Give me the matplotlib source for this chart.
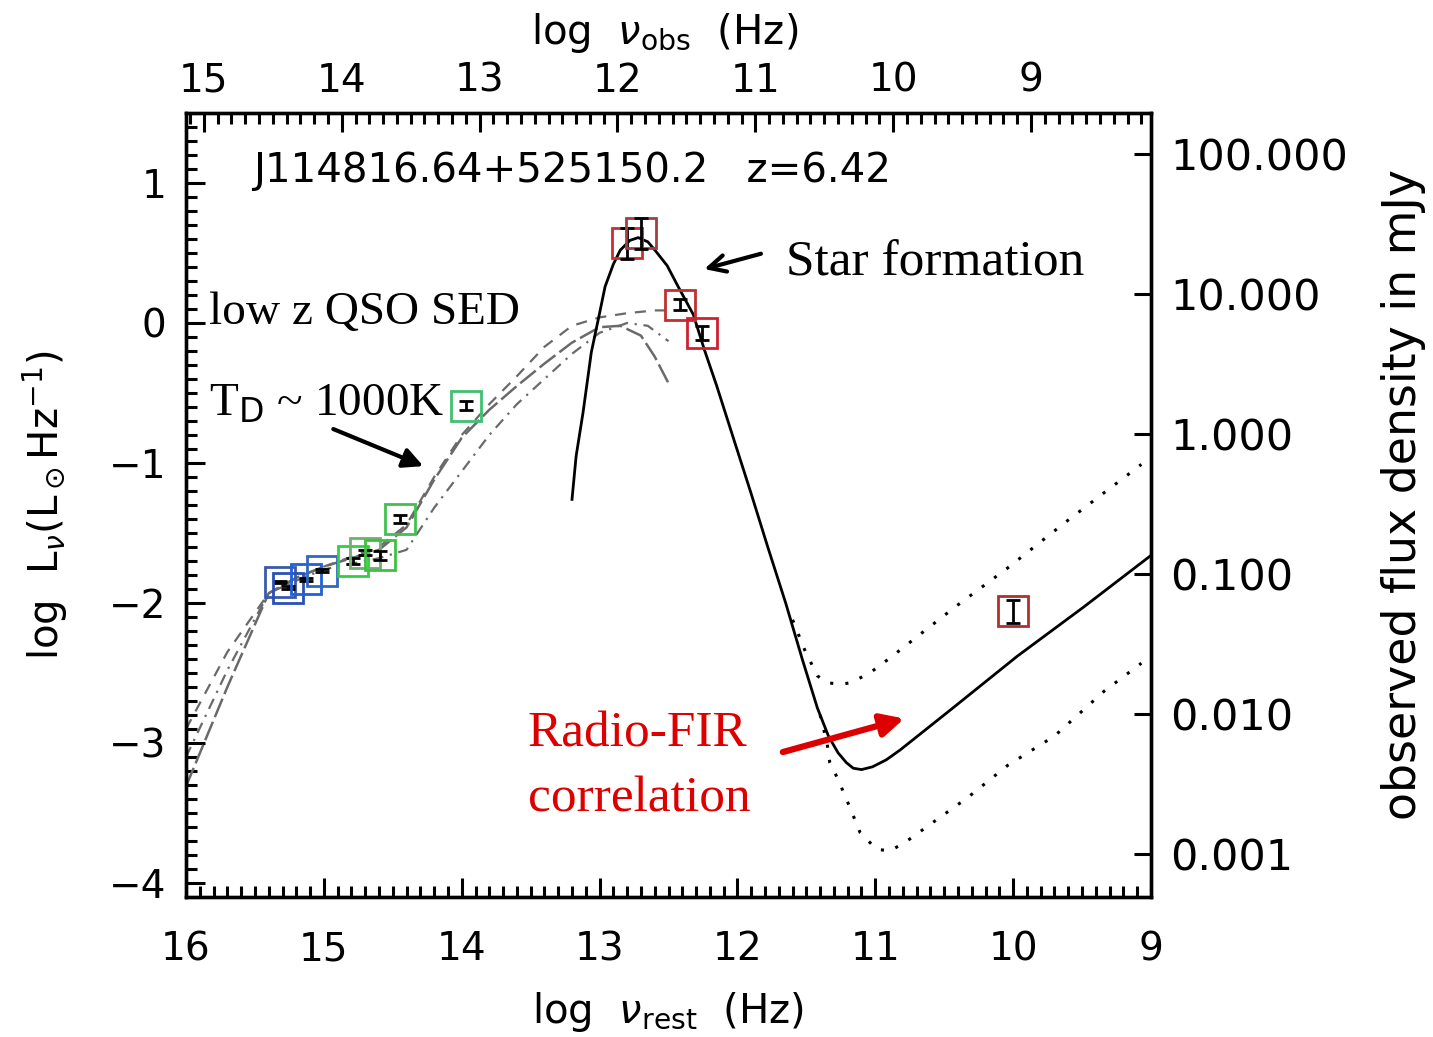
import numpy as np
import matplotlib
matplotlib.use('Agg')
import matplotlib.pyplot as plt
from matplotlib.ticker import MultipleLocator, FixedLocator, NullLocator, FuncFormatter

# redshift and flux offset between the two y-axes
z = 6.42
dz = np.log10(1 + z)
off = 0.79  # log F(mJy) = log L + off

# photometry (log nu_rest, log L_nu, error)
blue_x = [15.32, 15.26, 15.13, 15.01]
blue_y = [-1.85, -1.89, -1.83, -1.77]
blue_e = [0.01, 0.01, 0.01, 0.01]
blue_c = ['#3a5aa8', '#2a50b8', '#2060d8', '#3068c0']

green_x = [14.79, 14.70, 14.59, 14.45, 13.97]
green_y = [-1.70, -1.64, -1.66, -1.40, -0.59]
green_e = [0.02, 0.02, 0.03, 0.03, 0.03]
green_c = ['#30d040', '#70b070', '#40c040', '#40c050', '#40c070']

red_x = [12.80, 12.70, 12.42, 12.26, 10.00]
red_y = [0.57, 0.64, 0.13, -0.07, -2.06]
red_e = [0.11, 0.11, 0.04, 0.05, 0.08]
red_c = ['#c83030', '#a04040', '#c03030', '#d02030', '#b03030']

# low z QSO templates
qso1_x = [16.0, 15.7, 15.4, 15.2, 15.0, 14.8, 14.6, 14.4, 14.2, 14.0, 13.8, 13.6, 13.4, 13.2, 13.0, 12.85, 12.7, 12.6, 12.5]
qso1_y = [-3.31, -2.60, -1.93, -1.82, -1.74, -1.68, -1.62, -1.46, -1.12, -0.82, -0.62, -0.45, -0.29, -0.14, -0.03, -0.02, -0.09, -0.24, -0.43]
qso2_x = [16.0, 15.7, 15.4, 15.2, 15.0, 14.8, 14.6, 14.4, 14.2, 14.0, 13.8, 13.6, 13.4, 13.2, 13.0, 12.8, 12.6, 12.5]
qso2_y = [-2.90, -2.35, -1.93, -1.82, -1.74, -1.67, -1.60, -1.44, -1.10, -0.80, -0.58, -0.38, -0.17, -0.02, 0.04, 0.07, 0.09, 0.09]
qso3_x = [16.0, 15.7, 15.4, 15.2, 15.0, 14.8, 14.6, 14.4, 14.2, 14.0, 13.8, 13.6, 13.4, 13.2, 13.0, 12.8, 12.65, 12.5]
qso3_y = [-3.10, -2.48, -1.93, -1.84, -1.76, -1.72, -1.68, -1.62, -1.32, -1.06, -0.80, -0.58, -0.40, -0.22, -0.07, 0.00, -0.02, -0.13]

# star formation + radio model
sf_x = [13.20, 13.17, 13.12, 13.06, 13.00, 12.96, 12.90, 12.85, 12.78, 12.72, 12.65, 12.59, 12.51, 12.43, 12.32, 12.24,
        12.15, 12.03, 11.90, 11.78, 11.65, 11.53, 11.42, 11.34, 11.27, 11.21, 11.16, 11.10, 11.02, 10.92, 10.82,
        10.45, 9.97, 9.49, 9.00]
sf_y = [-1.26, -0.95, -0.64, -0.21, 0.07, 0.26, 0.42, 0.52, 0.59, 0.61, 0.58, 0.51, 0.41, 0.26, 0.06, -0.19,
        -0.45, -0.82, -1.22, -1.60, -2.00, -2.40, -2.75, -2.95, -3.07, -3.14, -3.18, -3.19, -3.17, -3.12, -3.05,
        -2.76, -2.38, -2.03, -1.66]
hi_x = [11.60, 11.51, 11.42, 11.35, 11.25, 11.18, 11.04, 10.89, 10.67, 10.41, 10.04, 9.63, 9.07]
hi_y = [-2.12, -2.34, -2.52, -2.57, -2.58, -2.57, -2.50, -2.39, -2.22, -2.02, -1.75, -1.43, -1.01]
lo_x = [11.40, 11.35, 11.33, 11.27, 11.18, 11.11, 10.99, 10.89, 10.77, 10.60, 10.33, 10.04, 9.70, 9.34, 9.07]
lo_y = [-2.80, -3.00, -3.14, -3.26, -3.47, -3.64, -3.76, -3.77, -3.70, -3.58, -3.39, -3.16, -2.95, -2.63, -2.43]

rest_ticks = [16, 15, 14, 13, 12, 11, 10, 9]
obs_ticks = [15, 14, 13, 12, 11, 10, 9]
l_ticks = [1, 0, -1, -2, -3, -4]
f_ticks = [100, 10, 1, 0.1, 0.01, 0.001]

W, H = 1433, 1037
fig = plt.figure(figsize=(W / 100, H / 100), dpi=100)
ax = fig.add_axes([186 / W, 1 - 897 / H, (1151 - 186) / W, (897 - 113) / H])

grey = '#6a6a6a'
ax.plot(qso1_x, qso1_y, color=grey, lw=1.8, ls=(0, (8, 2)))
ax.plot(qso2_x, qso2_y, color=grey, lw=1.6, ls=(0, (5, 4)))
ax.plot(qso3_x, qso3_y, color=grey, lw=1.6, ls=(0, (5, 3, 1, 3)))

ax.plot(sf_x, sf_y, color='black', lw=2.0)
ax.plot(hi_x, hi_y, color='black', lw=2.2, ls=(0, (1, 4)))
ax.plot(lo_x, lo_y, color='black', lw=2.2, ls=(0, (1, 4)))

for xs, ys, es, cs in [(blue_x, blue_y, blue_e, blue_c),
                       (green_x, green_y, green_e, green_c),
                       (red_x, red_y, red_e, red_c)]:
    for xv, yv, ev, cv in zip(xs, ys, es, cs):
        ax.plot(xv, yv, marker='s', ms=21, mfc='none', mec=cv, mew=2.0, ls='none')
        ax.errorbar(xv, yv, yerr=ev, fmt='none', ecolor='black', elinewidth=2, capsize=5, capthick=2)

ax.set_xlim(16, 9)
ax.set_ylim(-4.1, 1.5)

ax.xaxis.set_major_locator(FixedLocator(rest_ticks))
ax.xaxis.set_minor_locator(MultipleLocator(0.1))
ax.yaxis.set_major_locator(FixedLocator(l_ticks))
ax.yaxis.set_minor_locator(MultipleLocator(0.1))
ax.tick_params(which='major', direction='in', length=14, width=2.2, labelsize=28)
ax.tick_params(which='minor', direction='in', length=8, width=2.2)
ax.tick_params(axis='x', which='both', top=False, pad=24)
ax.tick_params(axis='y', which='both', right=False, pad=14)
ax.yaxis.set_major_formatter(FuncFormatter(lambda v, p: '%d' % v if v >= 0 else '\u2212%d' % -v))
for s in ax.spines.values():
    s.set_linewidth(2.4)

# top axis: observed frequency
top = ax.secondary_xaxis('top', functions=(lambda x: x - dz, lambda x: x + dz))
top.xaxis.set_major_locator(FixedLocator(obs_ticks))
top.xaxis.set_minor_locator(MultipleLocator(0.1))
top.tick_params(which='major', direction='in', length=14, width=2.2, labelsize=28, pad=9.5)
top.tick_params(which='minor', direction='in', length=8, width=2.2)

# right axis: observed flux density
ax2 = ax.twinx()
ax2.set_yscale('log')
ax2.set_ylim(10 ** (-4.1 + off), 10 ** (1.5 + off))
ax2.yaxis.set_major_locator(FixedLocator(f_ticks))
ax2.yaxis.set_minor_locator(NullLocator())
ax2.yaxis.set_major_formatter(FuncFormatter(lambda v, p: '%.3f' % v))
ax2.tick_params(which='major', direction='in', length=12, width=2.2, labelsize=31, pad=14)
for s in ax2.spines.values():
    s.set_linewidth(2.4)

# axis titles
fig.text(668 / W, 1 - 1012 / H, r'log  $\nu_{\rm rest}$  (Hz)', fontsize=29, ha='center', va='center')
fig.text(665 / W, 1 - 33 / H, r'log  $\nu_{\rm obs}$  (Hz)', fontsize=29, ha='center', va='center')
fig.text(45 / W, 1 - 505 / H, r'log  L$_\nu$(L$_\odot$Hz$^{-1}$)', fontsize=29, ha='center', va='center',
         rotation=90)
fig.text(1403 / W, 1 - 495 / H, 'observed flux density in mJy', fontsize=33, ha='center', va='center',
         rotation=90)

# annotations
ax.text(15.51, 1.086, 'J114816.64+525150.2   z=6.42', fontsize=29, ha='left', va='center')
serif = 'Liberation Serif'
ax.text(15.83, 0.07, 'low z QSO SED', family=serif, fontsize=34, ha='left', va='center')
ax.text(15.83, -0.58, r'T$_{\rm D}$ ~ 1000K', family=serif, fontsize=34, ha='left', va='center')
ax.annotate('', xy=(14.26, -1.03), xytext=(14.95, -0.75),
            arrowprops=dict(arrowstyle='-|>', color='black', lw=3, mutation_scale=30))
ax.text(11.65, 0.43, 'Star formation', family=serif, fontsize=37, ha='left', va='center')
ax.annotate('', xy=(12.26, 0.38), xytext=(11.81, 0.50),
            arrowprops=dict(arrowstyle='->', color='black', lw=3, mutation_scale=30))
ax.text(13.52, -2.94, 'Radio-FIR', family=serif, fontsize=37, color='#dd0000', ha='left', va='center')
ax.text(13.52, -3.40, 'correlation', family=serif, fontsize=37, color='#dd0000', ha='left', va='center')
ax.annotate('', xy=(10.77, -2.82), xytext=(11.69, -3.07),
            arrowprops=dict(arrowstyle='-|>', color='#dd0000', lw=4.5, mutation_scale=34))

fig.savefig('out.png', dpi=100)
